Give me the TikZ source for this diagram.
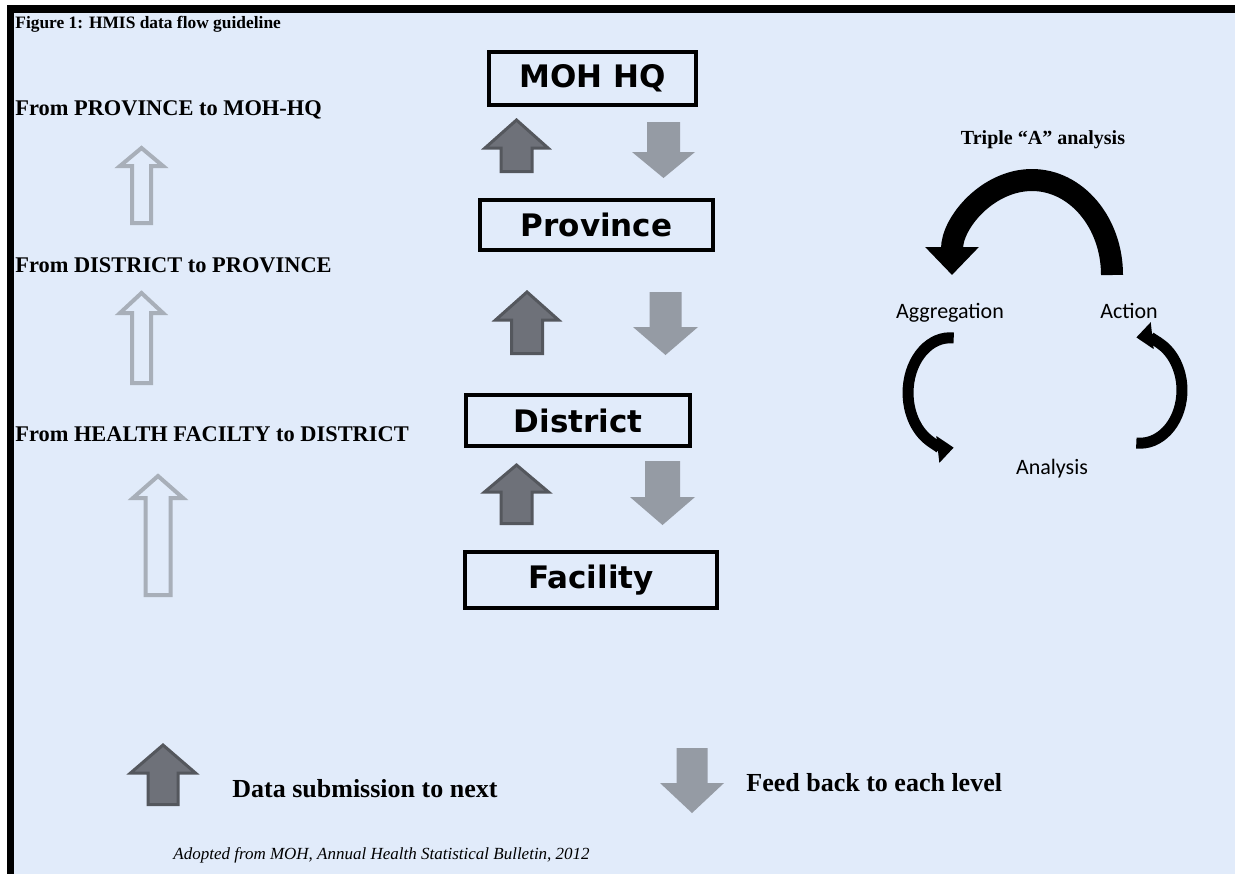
\documentclass[tikz,border=0pt]{standalone}
\usepackage{fontspec}
\setmainfont{Liberation Serif}
\newfontfamily\boxfont{DejaVu Sans}
\newfontfamily\labelfont{Carlito}
\usepackage{tikz}
\usetikzlibrary{positioning,arrows.meta}

\definecolor{paneblue}{RGB}{225,235,250}
\definecolor{submitfill}{RGB}{110,113,121}
\definecolor{submitline}{RGB}{84,87,93}
\definecolor{feedfill}{RGB}{149,155,164}
\definecolor{hollowline}{RGB}{168,175,185}

% block arrow: style, centre x, tip y, head base y, tail y, half head, half shaft
\newcommand{\blockarrow}[7]{%
  \path[#1] ({#2-#7},#5) -- ({#2-#7},#4) -- ({#2-#6},#4) -- (#2,#3)
    -- ({#2+#6},#4) -- ({#2+#7},#4) -- ({#2+#7},#5) -- cycle;}

\begin{document}
\begin{tikzpicture}[
    x=0.5pt, y=-0.5pt,
    levelbox/.style={
        rectangle,
        draw,
        line width=2pt,
        inner sep=0pt,
        font={\fontsize{15.5}{18}\boxfont\bfseries}
    },
    pathtext/.style={
        anchor=west,
        inner sep=0pt,
        font={\fontsize{11.2}{13}\selectfont\bfseries}
    },
    legendtext/.style={
        anchor=west,
        inner sep=0pt,
        font={\fontsize{13}{15}\selectfont\bfseries}
    },
    cyclelabel/.style={
        anchor=base,
        inner sep=0pt,
        font={\fontsize{11}{13}\labelfont}
    },
    submit/.style={fill=submitfill, draw=submitline, line width=1.5pt},
    feed/.style={fill=feedfill},
    hollow/.style={draw=hollowline, line width=2pt},
    cycle/.style={line width=#1, line cap=butt}
]

\useasboundingbox (0,0) rectangle (1235,874);

% ------------------------------------------------------------
% Frame
% ------------------------------------------------------------

\fill[white] (0,0) rectangle (1235,874);
\fill[paneblue] (14,13) rectangle (1235,874);
\fill[black] (7,5) rectangle (14,874);
\fill[black] (7,5) rectangle (1235,13);

\node[anchor=west, inner sep=0pt, font={\fontsize{8.7}{10}\selectfont\bfseries}]
    (title) at (15,24) {Figure 1: HMIS data flow guideline};

% ------------------------------------------------------------
% Levels
% ------------------------------------------------------------

\node[levelbox, minimum width=103.5pt, minimum height=26.5pt] (mohhq)
    at (592.5,78.5) {MOH HQ};

\node[levelbox, minimum width=116.5pt, minimum height=25pt] (province)
    at (596.5,225) {Province};

\node[levelbox, minimum width=112pt, minimum height=25.5pt] (district)
    at (578,420.5) {District};

\node[levelbox, minimum width=126pt, minimum height=28pt] (facility)
    at (591,580) {Facility};

% ------------------------------------------------------------
% Submission and feedback between levels
% ------------------------------------------------------------

\blockarrow{submit}{516.5}{120}{148}{171.5}{31.5}{15.5}
\blockarrow{feed}{663.5}{178}{152}{122}{31.5}{16.5}

\blockarrow{submit}{527}{292}{320}{353.5}{31.5}{15.5}
\blockarrow{feed}{665.5}{355}{327}{292}{32.5}{16}

\blockarrow{submit}{516.5}{465}{492}{523.5}{32}{15.5}
\blockarrow{feed}{662.5}{525}{497}{461}{32.5}{17.5}

% ------------------------------------------------------------
% Reporting path on the left
% ------------------------------------------------------------

\node[pathtext] (lvlone) at (15,110) {From PROVINCE to MOH-HQ};
\blockarrow{hollow}{141.5}{148}{166}{223}{21.5}{9.5}

\node[pathtext] (lvltwo) at (15,265) {From DISTRICT to PROVINCE};
\blockarrow{hollow}{141.5}{293}{313}{383}{21.5}{9.5}

\node[pathtext] (lvlthree) at (15,434) {From HEALTH FACILTY to DISTRICT};
\blockarrow{hollow}{158}{476}{498}{595}{25}{12.5}

% ------------------------------------------------------------
% Triple "A" analysis
% ------------------------------------------------------------

\node[inner sep=0pt, font={\fontsize{10}{12}\selectfont\bfseries}]
    (tripletitle) at (1043,140) {Triple “A” analysis};

\node[cyclelabel] (aggr) at (950,318) {Aggregation};
\node[cyclelabel] (actn) at (1129,318) {Action};
\node[cyclelabel] (anlys) at (1052,474) {Analysis};

\coordinate (bigtail) at (1112,275);
\coordinate (lefttail) at (953.7,338);
\coordinate (righttail) at (1136.3,443);

\draw[cycle=11pt, -{Triangle[width=26pt, length=14pt]}]
    (bigtail) arc[start angle=0, end angle=-180, x radius=80, y radius=95];

\draw[cycle=5.5pt, -{Triangle[width=13pt, length=8pt]}]
    (lefttail) arc[start angle=-85, end angle=-275, x radius=42, y radius=55];

\draw[cycle=5.5pt, -{Triangle[width=13pt, length=8pt]}]
    (righttail) arc[start angle=95, end angle=-95, x radius=42, y radius=53];

% ------------------------------------------------------------
% Legend
% ------------------------------------------------------------

\blockarrow{submit}{163}{745}{773}{804.5}{32.5}{15}
\node[legendtext] (legsubmit) at (232,789) {Data submission to next};

\blockarrow{feed}{692}{813}{783}{748}{32}{15.5}
\node[legendtext] (legfeed) at (746,783) {Feed back to each level};

\node[anchor=west, inner sep=0pt, font={\fontsize{8.5}{10}\selectfont\itshape}]
    (source) at (173,855) {Adopted from MOH, Annual Health Statistical Bulletin, 2012};

\end{tikzpicture}
\end{document}
